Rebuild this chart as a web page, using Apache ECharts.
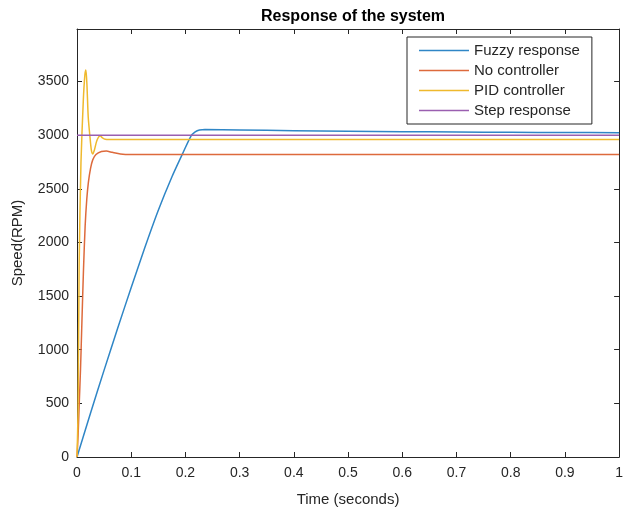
<!DOCTYPE html>
<html>
<head>
<meta charset="utf-8">
<script src="https://cdn.jsdelivr.net/npm/echarts@6/dist/echarts.min.js"></script>
<style>
html, body { margin: 0; padding: 0; background: #fff; }
#main { width: 626px; height: 512px; }
</style>
</head>
<body>
<div id="main"></div>
<script>
// series names, in legend order
var names = ['Fuzzy response', 'No controller', 'PID controller', 'Step response'];

// Fuzzy response (blue)
var fuzzyT = [0, 0.025, 0.05, 0.075, 0.1, 0.125, 0.15, 0.175, 0.195, 0.21, 0.218, 0.226, 0.236, 0.3, 0.4, 0.5, 0.6, 0.7, 0.8, 0.9, 1];
var fuzzyV = [0, 410, 810, 1200, 1580, 1950, 2300, 2610, 2830, 2990, 3030, 3048, 3052, 3048, 3042, 3037, 3033, 3030, 3027, 3025, 3023];

// No controller (red)
var noCtrlT = [0, 0.002, 0.004, 0.0065, 0.009, 0.012, 0.015, 0.018, 0.021, 0.025, 0.029, 0.035, 0.045, 0.054, 0.065, 0.08, 0.1, 1];
var noCtrlV = [0, 200, 480, 820, 1250, 1750, 2150, 2400, 2560, 2690, 2770, 2820, 2848, 2852, 2840, 2825, 2820, 2820];

// PID controller (yellow)
var pidT = [0, 0.002, 0.004, 0.0073, 0.0116, 0.0145, 0.0165, 0.0185, 0.0207, 0.024, 0.0265, 0.029, 0.032, 0.036, 0.04, 0.043, 0.047, 0.052, 0.06, 1];
var pidV = [0, 450, 1800, 2740, 3320, 3560, 3607, 3450, 3170, 2980, 2860, 2825, 2860, 2940, 2985, 2992, 2975, 2962, 2960, 2960];

// Step response (purple)
var stepT = [0, 1];
var stepV = [3000, 3000];

// axis ticks
var xTicks = [0, 0.1, 0.2, 0.3, 0.4, 0.5, 0.6, 0.7, 0.8, 0.9, 1];
var yTicks = [0, 500, 1000, 1500, 2000, 2500, 3000, 3500];

function pairs(t, v) {
  var out = [];
  for (var i = 0; i < t.length; i++) out.push([t[i], v[i]]);
  return out;
}

var font = 'Liberation Sans, Arial, Helvetica, sans-serif';
var ink = '#262626';
var colors = ['#2f86c6', '#dd6a3c', '#efb92d', '#9a5fb0'];

var myChart = echarts.init(document.getElementById('main'));

// box-style axis: line on its own edge, ticks pointing into the plot
function frameAxis(extra) {
  return Object.assign({
    type: 'value',
    axisLine: { show: true, onZero: false, lineStyle: { color: ink, width: 1 } },
    axisTick: { show: true, inside: true, length: 5, lineStyle: { color: ink } },
    splitLine: { show: false }
  }, extra);
}

var option = {
  backgroundColor: '#fff',
  animation: false,
  textStyle: { fontFamily: font },
  title: {
    text: 'Response of the system',
    left: 256,
    top: 4,
    textStyle: { fontSize: 16, fontWeight: 'bold', color: '#000', fontFamily: font }
  },
  legend: {
    orient: 'vertical',
    left: 407,
    top: 37,
    data: names.map(function (n) { return { name: n, icon: 'rect' }; }),
    itemWidth: 50,
    itemHeight: 1.5,
    itemGap: 5,
    padding: [6, 12, 6, 12],
    backgroundColor: '#fff',
    borderColor: ink,
    borderWidth: 1,
    textStyle: { fontSize: 15, color: ink, fontFamily: font }
  },
  grid: { left: 77, right: 3, top: 29, bottom: 54 },
  xAxis: [
    frameAxis({
      position: 'bottom',
      min: 0,
      max: 1,
      interval: 0.1,
      name: 'Time (seconds)',
      nameLocation: 'middle',
      nameGap: 35,
      nameTextStyle: { fontSize: 15, color: ink, fontFamily: font },
      axisLabel: {
        color: ink, fontSize: 14, margin: 9, fontFamily: font,
        formatter: function (v) {
          var s = +v.toFixed(1);
          return xTicks.indexOf(s) >= 0 ? String(s) : '';
        }
      }
    }),
    frameAxis({
      position: 'top',
      min: 0,
      max: 1,
      interval: 0.1,
      axisLabel: { show: false }
    })
  ],
  yAxis: [
    frameAxis({
      position: 'left',
      min: 0,
      max: 3990,
      interval: 500,
      name: 'Speed(RPM)',
      nameLocation: 'middle',
      nameGap: 52,
      nameTextStyle: { fontSize: 15, color: ink, fontFamily: font },
      axisLabel: {
        color: ink, fontSize: 14, margin: 8, fontFamily: font, showMaxLabel: false,
        formatter: function (v) {
          return yTicks.indexOf(v) >= 0 ? String(v) : '';
        }
      }
    }),
    frameAxis({
      position: 'right',
      min: 0,
      max: 3990,
      interval: 500,
      axisLabel: { show: false }
    })
  ],
  series: [
    { name: names[0], data: pairs(fuzzyT, fuzzyV) },
    { name: names[1], data: pairs(noCtrlT, noCtrlV) },
    { name: names[2], data: pairs(pidT, pidV) },
    { name: names[3], data: pairs(stepT, stepV) }
  ].map(function (s, i) {
    return {
      name: s.name,
      type: 'line',
      data: s.data,
      symbol: 'none',
      smooth: 0.25,
      color: colors[i],
      lineStyle: { color: colors[i], width: 1.5 },
      z: 2 + i
    };
  })
};

myChart.setOption(option);
</script>
</body>
</html>
